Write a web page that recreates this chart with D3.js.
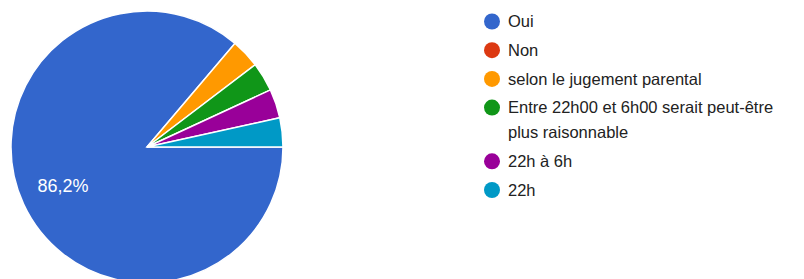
<!DOCTYPE html>
<html>
<head>
<meta charset="utf-8">
<script src="https://cdn.jsdelivr.net/npm/d3@7"></script>
<style>
  body { margin: 0; background: #fff; }
  text { font-family: "Liberation Sans", Arial, sans-serif; }
</style>
</head>
<body>
<script>
const width = 804;
const height = 279;

const categories = ["Oui", "Non", "selon le jugement parental", "Entre 22h00 et 6h00 serait peut-être plus raisonnable", "22h à 6h", "22h"];
const counts = [25, 0, 1, 1, 1, 1];
const colors = ["#3366cc", "#dc3912", "#ff9900", "#109618", "#990099", "#0099c6"];

const data = categories.map((c, i) => ({ name: c, value: counts[i], color: colors[i] }));
const total = d3.sum(counts);

const svg = d3.select("body").append("svg")
    .attr("width", width)
    .attr("height", height);

const cx = 147, cy = 147, radius = 136;

const pie = d3.pie()
    .value(d => d.value)
    .sort(null)
    .startAngle(Math.PI / 2)
    .endAngle(Math.PI / 2 + 2 * Math.PI);

const arc = d3.arc().innerRadius(0).outerRadius(radius);
const labelArc = d3.arc().innerRadius(radius * 0.68).outerRadius(radius * 0.68);

const g = svg.append("g").attr("transform", `translate(${cx},${cy})`);

const arcs = pie(data).filter(d => d.data.value > 0);

g.selectAll("path.slice")
    .data(arcs)
    .join("path")
    .attr("class", "slice")
    .attr("d", arc)
    .style("fill", d => d.data.color)
    .style("stroke", "white")
    .style("stroke-width", 1.5);

// only big slices get a percent label
const fmt = v => d3.format(".1f")(v).replace(".", ",") + "%";
g.selectAll("text.pct")
    .data(arcs.filter(d => d.data.value / total > 0.1))
    .join("text")
    .attr("class", "pct")
    .attr("transform", d => `translate(${labelArc.centroid(d)})`)
    .attr("text-anchor", "middle")
    .attr("dy", "0.35em")
    .style("fill", "white")
    .style("font-size", "18px")
    .text(d => fmt(d.data.value / total * 100));

// legend
const legend = svg.append("g").attr("transform", "translate(492,21.5)");
const maxTextWidth = 290;
let y = 0;
data.forEach(d => {
    const row = legend.append("g").attr("transform", `translate(0,${y})`);
    row.append("circle").attr("r", 8).style("fill", d.color);
    const txt = row.append("text")
        .attr("x", 16)
        .style("font-size", "16.5px")
        .style("fill", "#222");
    // simple word wrap
    const words = d.name.split(" ");
    let line = [];
    let lineNo = 0;
    let tspan = txt.append("tspan").attr("x", 16).attr("dy", "0.35em");
    words.forEach(w => {
        line.push(w);
        tspan.text(line.join(" "));
        if (tspan.node().getComputedTextLength() > maxTextWidth && line.length > 1) {
            line.pop();
            tspan.text(line.join(" "));
            line = [w];
            lineNo++;
            tspan = txt.append("tspan").attr("x", 16).attr("dy", 25).text(w);
        }
    });
    y += 28.7 + lineNo * 25;
});
</script>
</body>
</html>
